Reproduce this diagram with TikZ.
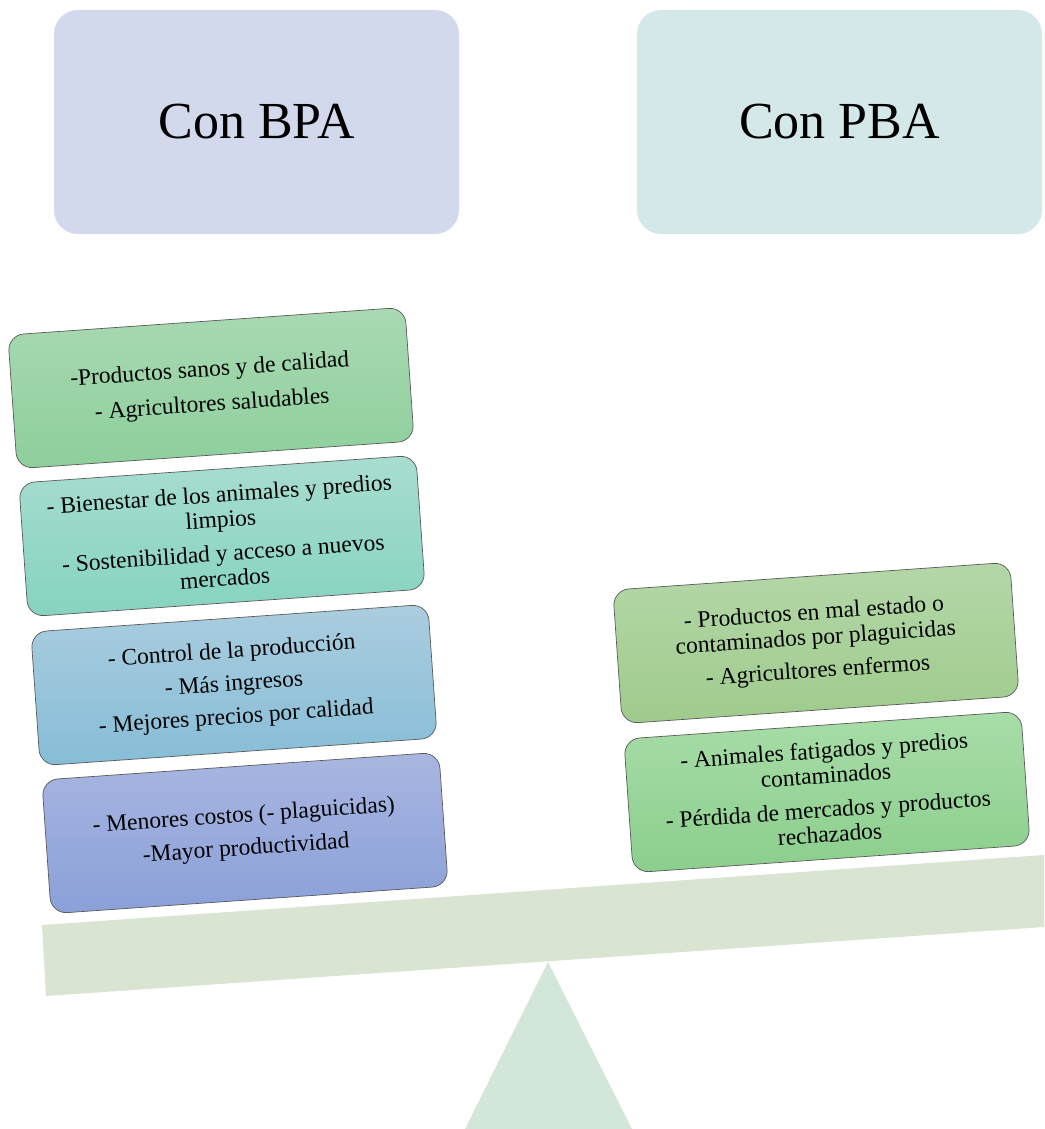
\documentclass[tikz,border=0pt]{standalone}
\usepackage{fontspec}
\setmainfont{Liberation Serif}
\definecolor{hl}{RGB}{211,217,236}
\definecolor{hr}{RGB}{212,232,234}
\definecolor{beamc}{RGB}{217,228,211}
\definecolor{tric}{RGB}{210,230,218}
\definecolor{gat}{RGB}{169,217,178}\definecolor{gab}{RGB}{141,207,156}
\definecolor{gbt}{RGB}{168,221,208}\definecolor{gbb}{RGB}{134,211,192}
\definecolor{gct}{RGB}{171,205,223}\definecolor{gcb}{RGB}{134,189,214}
\definecolor{gdt}{RGB}{169,182,225}\definecolor{gdb}{RGB}{138,160,216}
\definecolor{get}{RGB}{180,215,168}\definecolor{geb}{RGB}{159,203,141}
\definecolor{gft}{RGB}{168,221,168}\definecolor{gfb}{RGB}{139,206,141}
\begin{document}
\begin{tikzpicture}[x=1pt,y=-1pt,
  item/.style={draw=black!65, line width=0.7pt, rounded corners=16pt, rotate=4,
    minimum width=398pt, minimum height=134pt, align=center, inner sep=0pt,
    font=\fontsize{23.5}{25}\selectfont},
  head/.style={rounded corners=24pt, minimum width=405pt, minimum height=224pt,
    inner sep=0pt, font=\fontsize{52}{60}\selectfont}]
\useasboundingbox (0,0) rectangle (1044,1129);
% scale
\fill[tric] (548,962) coordinate (apex) -- (632,1129) -- (465,1129) -- cycle;
\fill[beamc] (42,925) -- (1044,855) -- (1044,927) -- (46,996) -- cycle;
% headers
\node[head, fill=hl] (h1) at (256.5,122) {Con BPA};
\node[head, fill=hr] (h2) at (839.5,122) {Con PBA};
% left stack
\node[item, top color=gat, bottom color=gab] (b1) at (211,388)
  {-Productos sanos y de calidad\\[10pt]- Agricultores saludables};
\node[item, top color=gbt, bottom color=gbb] (b2) at (222,536)
  {- Bienestar de los animales y predios\\limpios\\[9pt]- Sostenibilidad y acceso a nuevos\\mercados};
\node[item, top color=gct, bottom color=gcb] (b3) at (234,685)
  {- Control de la producción\\[8pt]- Más ingresos\\[8pt]- Mejores precios por calidad};
\node[item, top color=gdt, bottom color=gdb] (b4) at (245,833)
  {- Menores costos (- plaguicidas)\\[8pt]-Mayor productividad};
% right stack
\node[item, top color=get, bottom color=geb] (bA) at (816,643)
  {- Productos en mal estado o\\contaminados por plaguicidas\\[8pt]- Agricultores enfermos};
\node[item, top color=gft, bottom color=gfb] (bB) at (827,792)
  {- Animales fatigados y predios\\contaminados\\[9pt]- Pérdida de mercados y productos\\rechazados};
\end{tikzpicture}
\end{document}
